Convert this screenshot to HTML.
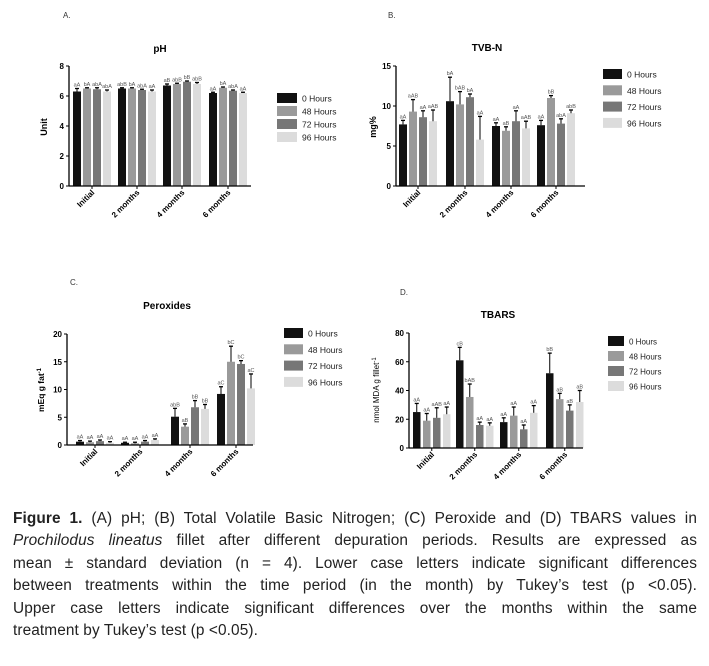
<!DOCTYPE html>
<html><head><meta charset="utf-8"><style>
body{margin:0;background:#fff;width:709px;height:666px;overflow:hidden;position:relative;font-family:"Liberation Sans",sans-serif}
svg{position:absolute;left:0;top:0}
#cap{position:absolute;left:13px;top:508px;width:684px;font-size:15.4px;line-height:22.4px;color:#222;letter-spacing:0.1px}
#cap div{text-align:justify;text-align-last:justify;white-space:nowrap;height:22.4px}
#cap div.l{text-align-last:left}
</style></head><body>
<svg id="s" width="709" height="666" font-family="Liberation Sans, sans-serif">
<text x="63" y="18" font-size="8" fill="#333">A.</text>
<text x="160" y="52" font-size="10" font-weight="bold" text-anchor="middle">pH</text>
<text x="388" y="18" font-size="8" fill="#333">B.</text>
<text x="487" y="51" font-size="10" font-weight="bold" text-anchor="middle">TVB-N</text>
<text x="70" y="285" font-size="8" fill="#333">C.</text>
<text x="167" y="309" font-size="10" font-weight="bold" text-anchor="middle">Peroxides</text>
<text x="400" y="295" font-size="8" fill="#333">D.</text>
<text x="498" y="318" font-size="10" font-weight="bold" text-anchor="middle">TBARS</text>
<text transform="translate(47,127) rotate(-90)" font-size="9" font-weight="bold" text-anchor="middle">Unit</text>
<text transform="translate(376,127) rotate(-90)" font-size="9" font-weight="bold" text-anchor="middle">mg%</text>
<text transform="translate(44,390) rotate(-90)" font-size="8.5" font-weight="bold" text-anchor="middle">mEq g fat<tspan dy="-3" font-size="6">-1</tspan></text>
<text transform="translate(379,390) rotate(-90)" font-size="8" text-anchor="middle">nmol MDA g fillet<tspan dy="-3" font-size="6">-1</tspan></text>
</svg>
<div id="cap">
<div><b>Figure 1.</b> (A) pH; (B) Total Volatile Basic Nitrogen; (C) Peroxide and (D) TBARS values in</div>
<div><i>Prochilodus lineatus</i> fillet after different depuration periods. Results are expressed as</div>
<div>mean ± standard deviation (n = 4). Lower case letters indicate significant differences</div>
<div>between treatments within the time period (in the month) by Tukey’s test (p &lt;0.05).</div>
<div>Upper case letters indicate significant differences over the months within the same</div>
<div class="l">treatment by Tukey’s test (p &lt;0.05).</div>
</div>
<script>
var s=document.getElementById('s'),NS='http://www.w3.org/2000/svg';
function el(t,a,txt){var e=document.createElementNS(NS,t);for(var k in a)e.setAttribute(k,a[k]);if(txt!=null)e.textContent=txt;s.appendChild(e);return e;}
var cols=['#111','#9a9a9a','#777','#dcdcdc'],leg=['0 Hours','48 Hours','72 Hours','96 Hours'];
var groups=['Initial','2 months','4 months','6 months'];
function chart(c){
 var sc=function(v){return c.y0-(v/c.max)*(c.y0-c.yt);};
 for(var g=0;g<4;g++)for(var b=0;b<4;b++){
  var x=c.gs[g]+b*c.step,v=c.d[g][b],e=c.e[g][b],y=sc(v);
  el('rect',{x:x,y:y,width:c.bw,height:c.y0-y,fill:cols[b]});
  var ye=sc(v+e),xm=x+c.bw/2;
  el('line',{x1:xm,x2:xm,y1:y,y2:ye,stroke:'#000','stroke-width':1});
  el('line',{x1:xm-2,x2:xm+2,y1:ye,y2:ye,stroke:'#000','stroke-width':1.3});
  el('text',{x:xm,y:ye-2,'font-size':5.5,fill:'#555','text-anchor':'middle'},c.l[g][b]);
 }
 el('line',{x1:c.ax,x2:c.ax,y1:c.yt,y2:c.y0,stroke:'#000','stroke-width':1.3});
 el('line',{x1:c.ax,x2:c.xe,y1:c.y0,y2:c.y0,stroke:'#000','stroke-width':1.3});
 for(var i=0;i<c.ticks.length;i++){var yy=sc(c.ticks[i]);
  el('line',{x1:c.ax-3,x2:c.ax,y1:yy,y2:yy,stroke:'#000'});
  el('text',{x:c.ax-5,y:yy+3,'font-size':8,'font-weight':'bold','text-anchor':'end'},c.ticks[i]);}
 for(var g=0;g<4;g++){var xc=c.gs[g]+(3*c.step+c.bw)/2;
  el('line',{x1:xc,x2:xc,y1:c.y0,y2:c.y0+3,stroke:'#000'});
  el('text',{transform:'translate('+(xc+3)+','+(c.y0+7)+') rotate(-45)','font-size':8,'font-weight':'bold','text-anchor':'end'},groups[g]);}
 for(var b=0;b<4;b++){var yy=c.ly+b*c.ls;
  el('rect',{x:c.lx,y:yy-5,width:c.lw,height:10,fill:cols[b]});
  el('text',{x:c.lx+c.lw+5,y:yy+3.5,'font-size':c.lf,fill:'#222'},leg[b]);}
}
chart({ax:69,xe:251,y0:186,yt:66,max:8,ticks:[0,2,4,6,8],gs:[73,118,163,209],step:10,bw:8,
 d:[[6.3,6.5,6.45,6.3],[6.5,6.5,6.4,6.3],[6.7,6.8,6.95,6.8],[6.2,6.55,6.35,6.2]],
 e:[[.2,.05,.1,.1],[.05,.05,.05,.1],[.1,.05,.05,.1],[.05,.05,.05,.05]],
 l:[['aA','bA','abA','abA'],['abB','bA','abA','aA'],['aB','abB','bB','abB'],['aA','bA','abA','aA']],
 lx:277,lw:20,ly:98,ls:13,lf:8.5});
chart({ax:396,xe:585,y0:186,yt:66,max:15,ticks:[0,5,10,15],gs:[399,446,492,537],step:10,bw:8,
 d:[[7.7,9.3,8.6,8.1],[10.6,10.2,11.1,5.8],[7.5,6.9,8.1,7.2],[7.6,11,7.8,9.1]],
 e:[[.5,1.5,.8,1.4],[3,1.6,.4,2.9],[.4,.5,1.3,.9],[.6,.3,.6,.4]],
 l:[['aA','aAB','aA','aAB'],['bA','bAB','bA','aA'],['aA','aB','aA','aAB'],['aA','bB','abA','abB']],
 lx:603,lw:19,ly:74,ls:16.3,lf:8.5});
chart({ax:67,xe:253,y0:445,yt:334,max:20,ticks:[0,5,10,15,20],gs:[76,121,171,217],step:10,bw:8,
 d:[[.6,.5,.7,.4],[.4,.3,.6,.9],[5.1,3.3,6.8,6.5],[9.2,15,14.6,10.2]],
 e:[[.2,.2,.2,.2],[.1,.2,.2,.2],[1.5,.5,1.2,.8],[1.3,2.8,.6,2.6]],
 l:[['aA','aA','aA','aA'],['aA','aA','aA','aA'],['abB','aB','bB','bB'],['aC','bC','bC','aC']],
 lx:284,lw:19,ly:333,ls:16.3,lf:8.5});
chart({ax:409,xe:583,y0:448,yt:333,max:80,ticks:[0,20,40,60,80],gs:[413,456,500,546],step:10,bw:7.5,
 d:[[25,19,21,23.5],[61,35.5,16,15.5],[18,22.5,13,24.5],[52,34,26,32]],
 e:[[6,5,7,5],[9,9,2,2],[3,6,3,5],[14,4,4,8]],
 l:[['aA','aA','aAB','aA'],['cB','bAB','aA','aA'],['aA','aA','aA','aA'],['bB','aB','aB','aB']],
 lx:608,lw:16,ly:341,ls:15,lf:8});
</script>
</body></html>
